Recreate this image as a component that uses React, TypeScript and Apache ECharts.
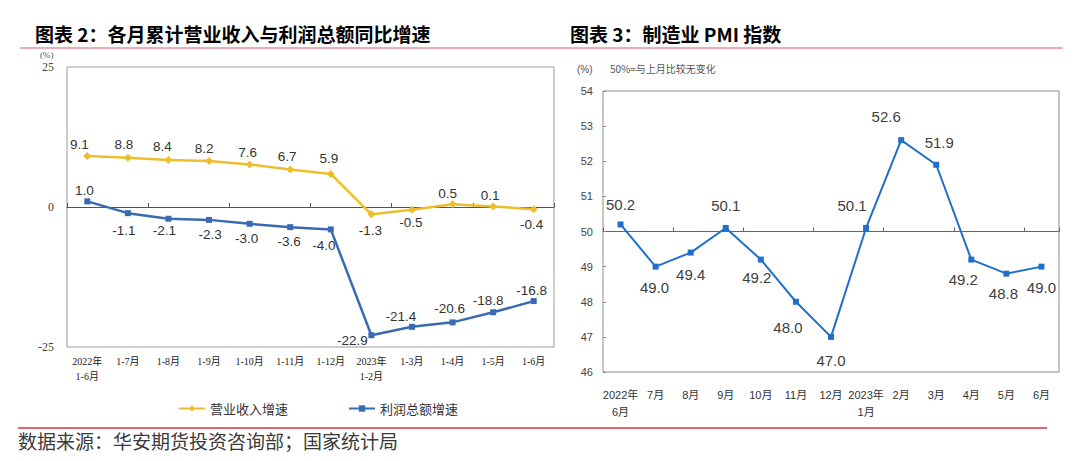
import React, { useEffect, useRef } from "react";
import * as echarts from "echarts";

// 图表2：各月累计营业收入与利润总额同比增速
const cumMonths = [
  "2022年\n1-6月", "1-7月", "1-8月", "1-9月", "1-10月", "1-11月", "1-12月",
  "2023年\n1-2月", "1-3月", "1-4月", "1-5月", "1-6月",
];
const revenueGrowth = [9.1, 8.8, 8.4, 8.2, 7.6, 6.7, 5.9, -1.3, -0.5, 0.5, 0.1, -0.4];
const profitGrowth = [1.0, -1.1, -2.1, -2.3, -3.0, -3.6, -4.0, -22.9, -21.4, -20.6, -18.8, -16.8];
const growthTicks = [-25, 0, 25];

// 图表3：制造业PMI指数
const pmiMonths = [
  "2022年\n6月", "7月", "8月", "9月", "10月", "11月", "12月",
  "2023年\n1月", "2月", "3月", "4月", "5月", "6月",
];
const pmiValues = [50.2, 49.0, 49.4, 50.1, 49.2, 48.0, 47.0, 50.1, 52.6, 51.9, 49.2, 48.8, 49.0];
const pmiTicks = [46, 54];

// label placement (which side, and a small nudge [dx, dy])
const revenueLabelSide = ["top", "top", "top", "top", "top", "top", "top", "bottom", "bottom", "top", "top", "bottom"];
const revenueLabelNudge = [[-8, 1], [-4, 0], [-6, 0], [-5, 0], [-2, 1], [-3, 0], [-2, -2], [-1, 3], [-1, 0], [-5, 2], [-3, 2], [-2, 2]];
const profitLabelSide = ["top", "bottom", "bottom", "bottom", "bottom", "bottom", "bottom", "bottom", "top", "top", "top", "top"];
const profitLabelNudge = [[-3, 1], [-4, 5], [-4, 0], [1, 3], [-3, 3], [-1, 2], [-7, 4], [-19, -7], [-11, 2], [-3, -2], [-5, 0], [-2, 1]];
const pmiLabelSide = ["top", "bottom", "bottom", "top", "bottom", "bottom", "bottom", "top", "top", "top", "bottom", "bottom", "bottom"];
const pmiLabelNudge = [[0, 1], [-1, 0], [0, 1], [0, -2], [-4, -3], [-8, 5], [0, 3], [-14, -2], [-15, -3], [3, -2], [-8, -1], [-3, -1], [0, 0]];

const SANS = '"Liberation Sans", Arial, sans-serif';
const CJK = '"Noto Sans CJK SC", sans-serif';
const SERIF_CJK = '"Liberation Serif", "Noto Sans CJK SC", serif';

const withLabels = (values: number[], sides: string[], nudges: number[][]) =>
  values.map((v, i) => ({
    value: v,
    label: { position: sides[i], offset: nudges[i] },
  }));

export default function App() {
  const ref = useRef<HTMLDivElement>(null);

  useEffect(() => {
    if (!ref.current) return;
    const chart = echarts.init(ref.current, undefined, { renderer: "svg" });

    const option: any = {
      animation: false,
      backgroundColor: "#ffffff",
      grid: [
        { left: 67, top: 67, width: 487, height: 280, show: true, borderColor: "#9a9a9a", borderWidth: 1, containLabel: false },
        { left: 603, top: 91, width: 456, height: 281, show: true, borderColor: "#8c8c8c", borderWidth: 1, containLabel: false },
      ],
      legend: {
        data: ["营业收入增速", "利润总额增速"],
        left: 173,
        top: 397,
        itemWidth: 26,
        itemHeight: 8,
        itemGap: 60,
        textStyle: { fontFamily: CJK, fontSize: 13, color: "#333" },
      },
      xAxis: [
        {
          type: "category", gridIndex: 0, data: cumMonths, position: "bottom",
          axisLine: { show: false }, axisTick: { show: false },
          axisLabel: { interval: 0, margin: 7, fontSize: 10, lineHeight: 15, color: "#222", fontFamily: SERIF_CJK },
        },
        {
          type: "category", gridIndex: 0, data: cumMonths, position: "bottom", offset: -140,
          axisLine: { show: true, lineStyle: { color: "#555", width: 1 } },
          axisTick: { show: true, inside: true, length: 4, lineStyle: { color: "#555" } },
          axisLabel: { show: false },
        },
        {
          type: "category", gridIndex: 1, data: pmiMonths, position: "bottom",
          axisLine: { show: false }, axisTick: { show: false },
          axisLabel: { interval: 0, margin: 14, fontSize: 11, lineHeight: 17, color: "#333", fontFamily: `${SANS}, "Noto Sans CJK SC"` },
        },
        {
          type: "category", gridIndex: 1, data: pmiMonths, position: "bottom", offset: -140.5,
          axisLine: { show: true, lineStyle: { color: "#666", width: 1 } },
          axisTick: { show: true, inside: true, length: 4, lineStyle: { color: "#666" } },
          axisLabel: { show: false },
        },
      ],
      yAxis: [
        {
          type: "value", gridIndex: 0, min: growthTicks[0], max: growthTicks[2], interval: 25,
          axisLine: { show: false }, axisTick: { show: false }, splitLine: { show: false },
          axisLabel: { margin: 13, fontSize: 12, color: "#444", fontFamily: '"Liberation Serif", serif' },
        },
        {
          type: "value", gridIndex: 1, min: pmiTicks[0], max: pmiTicks[1], interval: 1,
          axisLine: { show: false }, splitLine: { show: false },
          axisTick: { show: true, inside: true, length: 3, lineStyle: { color: "#888" } },
          axisLabel: { margin: 10, fontSize: 11, color: "#444", fontFamily: SANS },
        },
      ],
      series: [
        {
          name: "营业收入增速", type: "line", xAxisIndex: 0, yAxisIndex: 0,
          data: withLabels(revenueGrowth, revenueLabelSide, revenueLabelNudge),
          symbol: "diamond", symbolSize: 8,
          lineStyle: { color: "#EDBE2B", width: 2.5 },
          itemStyle: { color: "#EDBE2B" },
          label: { show: true, distance: 2, fontSize: 13.5, color: "#333", fontFamily: SANS, formatter: (p: any) => p.value.toFixed(1) },
          z: 3,
        },
        {
          name: "利润总额增速", type: "line", xAxisIndex: 0, yAxisIndex: 0,
          data: withLabels(profitGrowth, profitLabelSide, profitLabelNudge),
          symbol: "rect", symbolSize: 6,
          lineStyle: { color: "#3A6BB2", width: 2.5 },
          itemStyle: { color: "#3A6BB2" },
          label: { show: true, distance: 2, fontSize: 13.5, color: "#333", fontFamily: SANS, formatter: (p: any) => p.value.toFixed(1) },
          z: 3,
        },
        {
          name: "制造业PMI", type: "line", xAxisIndex: 2, yAxisIndex: 1,
          data: withLabels(pmiValues, pmiLabelSide, pmiLabelNudge),
          symbol: "rect", symbolSize: 6,
          lineStyle: { color: "#1F6FCB", width: 2 },
          itemStyle: { color: "#1F6FCB" },
          label: { show: true, distance: 10, fontSize: 15, color: "#404040", fontFamily: SANS, formatter: (p: any) => p.value.toFixed(1) },
          z: 3,
        },
      ],
      graphic: [
        {
          type: "text", left: 35, top: 24,
          style: { text: "图表 2：各月累计营业收入与利润总额同比增速", fontSize: 19, fontWeight: "bold", fontFamily: CJK, fill: "#000" },
        },
        {
          type: "text", left: 570, top: 24,
          style: { text: "图表 3：制造业 PMI 指数", fontSize: 19, fontWeight: "bold", fontFamily: CJK, fill: "#000" },
        },
        { type: "line", shape: { x1: 20, y1: 48, x2: 1063, y2: 48 }, style: { stroke: "#E8929B", lineWidth: 1.5 } },
        { type: "line", shape: { x1: 18, y1: 428, x2: 1047, y2: 428 }, style: { stroke: "#D0343F", lineWidth: 1.5 } },
        {
          type: "text", left: 40, top: 50,
          style: { text: "(%)", fontSize: 9, fontFamily: '"Liberation Serif", serif', fill: "#555" },
        },
        {
          type: "text", left: 577, top: 64,
          style: { text: "(%)", fontSize: 10, fontFamily: SANS, fill: "#555" },
        },
        {
          type: "text", left: 610, top: 63,
          style: { text: "50%=与上月比较无变化", fontSize: 10, fontFamily: CJK, fill: "#555" },
        },
        {
          type: "text", left: 18, top: 431,
          style: { text: "数据来源：华安期货投资咨询部；国家统计局", fontSize: 19, fontFamily: CJK, fill: "#3a3a3a" },
        },
      ],
    };

    chart.setOption(option);
    return () => chart.dispose();
  }, []);

  return (
    <div
      ref={ref}
      style={{ position: "fixed", left: 0, top: 0, width: 1080, height: 461, background: "#fff" }}
    />
  );
}
